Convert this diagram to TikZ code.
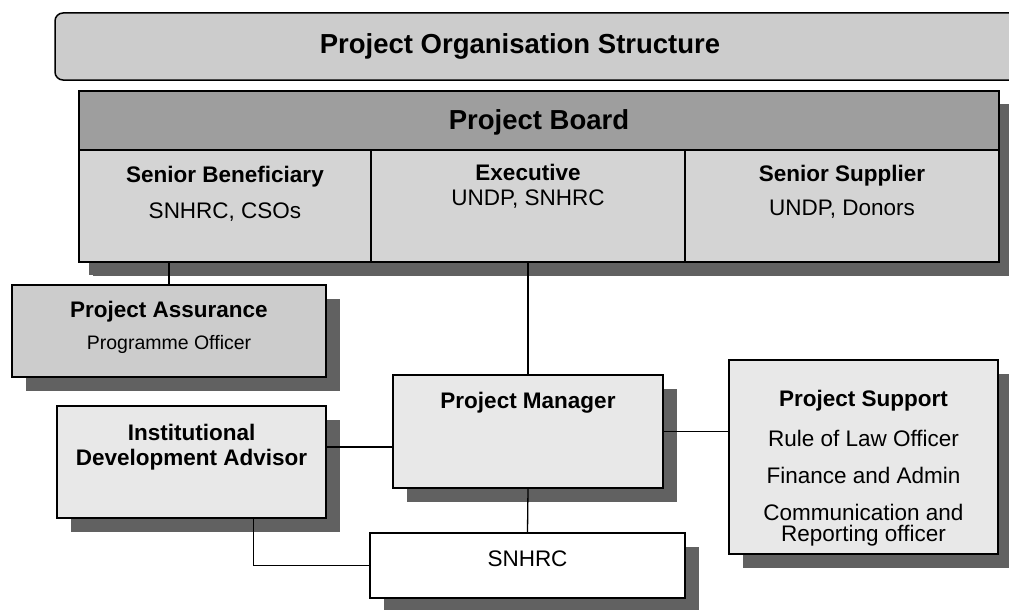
\documentclass[tikz,border=0pt]{standalone}
\usepackage{fontspec}
\setmainfont{Liberation Sans}
\usetikzlibrary{positioning, shadows}
\tikzset{
  % flat box with a solid shadow; text height = top edge to last baseline
  unit/.style={rectangle, draw=black, line width=1.8pt, inner sep=0pt,
               align=center, text height=33pt, fill=black!9,
               font=\fontsize{22.5}{25}\selectfont,
               drop shadow={shadow xshift=14pt, shadow yshift=-14pt,
                            fill=black!62, opacity=1}},
  % cells of the board
  cell/.style={unit, fill=black!17,
               drop shadow={shadow xshift=10pt, shadow yshift=-13pt,
                            fill=black!62, opacity=1}},
  banner/.style={rectangle, rounded corners=8pt, draw=black, line width=1.5pt,
                 fill=black!20},
  link/.style={line width=1.3pt, draw=black}
}

\begin{document}
\begin{tikzpicture}[x=1pt, y=-1pt]
  \useasboundingbox (0,0) rectangle (1009,610);

  % banner running off the right edge
  \node[banner, minimum width=970pt, minimum height=67pt] (banner) at (540,46.5) {};
  \node[font=\fontsize{27.5}{30}\selectfont\bfseries] (title)
       at ([xshift=-20pt]banner.center) {Project Organisation Structure};

  % board
  \node[cell, fill=black!38, minimum width=920pt, text height=38pt, text depth=21pt,
        font=\fontsize{27.5}{30}\selectfont\bfseries] (pb) at (539,120.5) {Project Board};
  \node[cell, minimum width=292pt, text height=68pt, text depth=44pt] (sb) at (225,206)
       {\textbf{Senior Beneficiary}\\[11pt]SNHRC, CSOs};
  \node[cell, minimum width=314pt, text height=55pt, text depth=57pt] (ex) at (528,206)
       {\textbf{Executive}\\UNDP, SNHRC};
  \node[cell, minimum width=314pt, text height=65pt, text depth=47pt] (ss) at (842,206)
       {\textbf{Senior Supplier}\\[9pt]UNDP, Donors};

  % the rest of the team
  \node[unit, fill=black!20, minimum width=314pt, text height=64pt, text depth=28pt] (pa)
       at (169,331)
       {\textbf{Project Assurance}\\[7pt]{\fontsize{19.5}{24}\selectfont Programme Officer}};
  \node[unit, minimum width=269pt, text height=59pt, text depth=53pt,
        font=\fontsize{22.5}{25}\selectfont\bfseries] (ida) at (191.5,462)
       {Institutional\\Development Advisor};
  \node[unit, minimum width=270pt, text depth=80pt,
        font=\fontsize{22.5}{25}\selectfont\bfseries] (pm) at (528,431.5) {Project Manager};
  \node[unit, minimum width=269pt, text height=181pt, text depth=13pt] (ps) at (863.5,457)
       {\textbf{Project Support}\\[15pt]Rule of Law Officer\\[12pt]Finance and Admin\\[12pt]%
        Communication and\\[-4pt]Reporting officer};
  \node[unit, fill=white, minimum width=315pt, text depth=32pt] (sn) at (527.5,565.5) {SNHRC};

  % lines
  \draw[link] (pa.north) -- (pa.north |- sb.south);
  \draw[link] (ex.south) -- (pm.north);
  \draw[link] (pm.south) -- (sn.north);
  \draw[link] (pm.east) -- (pm.east -| ps.west);
  \draw[link] ([yshift=15pt]ida.east) -- ([yshift=15pt]ida.east -| pm.west);
  \draw[link] ([xshift=62pt]ida.south) |- (sn.west);
\end{tikzpicture}
\end{document}
